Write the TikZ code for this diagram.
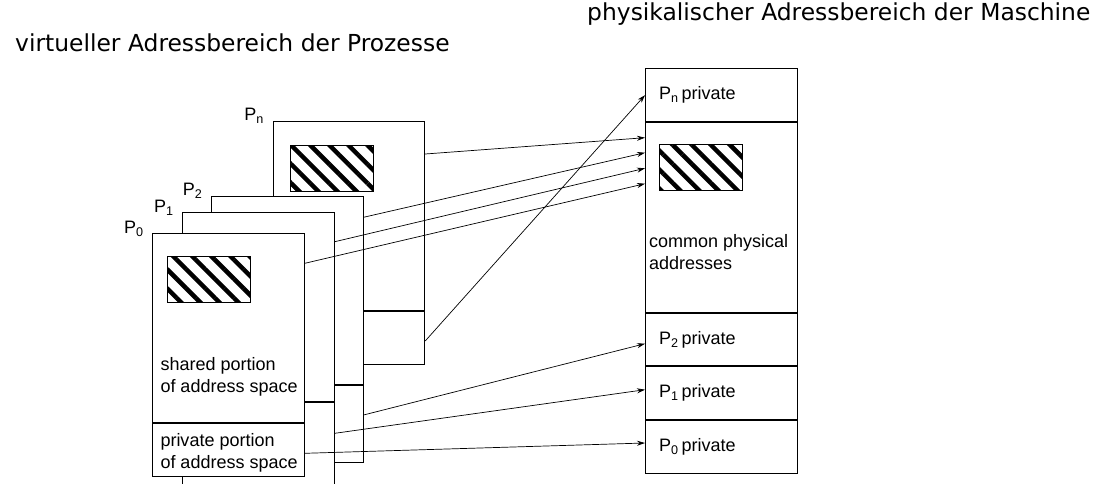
\documentclass[tikz,border=0pt]{standalone}
\usepackage{fontspec}
\setmainfont{Liberation Sans}
\newfontfamily\headfont{DejaVu Sans}
\usetikzlibrary{arrows.meta,patterns.meta,positioning}
\tikzset
{
    procbox/.style  = {rectangle, draw=black, fill=white, line width=1pt, inner sep=0pt, minimum width=151.5pt, anchor=north west},
    membox/.style   = {rectangle, draw=black, fill=white, line width=1pt, inner sep=0pt, minimum width=151.5pt},
    hatchbox/.style = {rectangle, draw=black, line width=0.8pt, inner sep=0pt, minimum width=83pt, minimum height=46pt, anchor=north west,
                       pattern={Lines[angle=-45, distance=13.5pt, line width=4.5pt]}},
    proclabel/.style = {anchor=base east, inner sep=0pt, font=\fontsize{18}{22}\selectfont},
    boxtext/.style  = {align=left, inner sep=0pt, font=\fontsize{18}{22}\selectfont},
    headline/.style = {anchor=base west, inner sep=0pt, font=\headfont\fontsize{23.4}{28}\selectfont},
    arrow/.style    = {->, >={Stealth[length=8pt, width=5pt]}, line width=0.7pt}
}

\begin{document}
\begin{tikzpicture}[x=1pt, y=-1pt]
   \useasboundingbox (0,0) rectangle (1113,484);

   % headings
   \node (vhead) [headline] at (15,52)  {virtueller Adressbereich der Prozesse};
   \node (phead) [headline] at (587,21) {physikalischer Adressbereich der Maschine};

   % process address spaces, back to front
   \node (pn)     [procbox, minimum height=189pt]   at (272.7,121)   {};
   \node (pnpriv) [procbox, minimum height=53.3pt]  at (pn.south west) {};
   \node (pnhat)  [hatchbox] at ([xshift=15.6pt, yshift=-22.3pt]pn.north west) {};

   \node (p2)     [procbox, minimum height=188.6pt] at (211,195.7)   {};
   \node (p2priv) [procbox, minimum height=76.7pt]  at (p2.south west) {};

   \node (p1)     [procbox, minimum height=188.7pt] at (182.3,212.3) {};
   \node (p1priv) [procbox, minimum height=82pt]    at (p1.south west) {};

   \node (p0)     [procbox, minimum height=189pt]   at (152.3,233.3) {};
   \node (p0priv) [procbox, minimum height=52.7pt]  at (p0.south west) {};
   \node (p0hat)  [hatchbox] at ([xshift=15pt, yshift=-22.4pt]p0.north west) {};

   \node (lpn) [proclabel] at ([xshift=-8.5pt]pn.north west) {P\textsubscript{n}};
   \node (lp2) [proclabel] at ([xshift=-8.5pt]p2.north west) {P\textsubscript{2}};
   \node (lp1) [proclabel] at ([xshift=-8.5pt]p1.north west) {P\textsubscript{1}};
   \node (lp0) [proclabel] at ([xshift=-8.5pt]p0.north west) {P\textsubscript{0}};

   \node (shtxt) [boxtext, anchor=north west] at ([xshift=8pt, yshift=-124pt]p0.north west) {shared portion\\of address space};
   \node (prtxt) [boxtext, anchor=north west] at ([xshift=8pt, yshift=-10pt]p0priv.north west) {private portion\\of address space};

   % physical memory
   \node (mpn)    [membox, minimum height=52.7pt, anchor=north west] at (645,68.3) {};
   \node (common) [membox, minimum height=189.7pt, below=0pt of mpn] {};
   \node (m2)     [membox, minimum height=52.6pt, below=0pt of common] {};
   \node (m1)     [membox, minimum height=52.7pt, below=0pt of m2] {};
   \node (m0)     [membox, minimum height=53pt,   below=0pt of m1] {};
   \node (mhat)   [hatchbox] at ([xshift=14.3pt, yshift=-22.3pt]common.north west) {};

   \node (tpn) [boxtext, anchor=west] at ([xshift=14pt]mpn.west) {P\textsubscript{n}\,private};
   \node (t2)  [boxtext, anchor=west] at ([xshift=14pt]m2.west)  {P\textsubscript{2}\,private};
   \node (t1)  [boxtext, anchor=west] at ([xshift=14pt]m1.west)  {P\textsubscript{1}\,private};
   \node (t0)  [boxtext, anchor=west] at ([xshift=14pt]m0.west)  {P\textsubscript{0}\,private};
   \node (tcom) [boxtext, anchor=north west] at ([xshift=4pt, yshift=-112pt]common.north west) {common physical\\addresses};

   % mappings
   \draw[arrow] ([yshift=-33pt]pn.north east)     -- ([yshift=-15.7pt]common.north west);
   \draw[arrow] ([yshift=-21.6pt]p2.north east)   -- ([yshift=-30.7pt]common.north west);
   \draw[arrow] ([yshift=-29.4pt]p1.north east)   -- ([yshift=-46.3pt]common.north west);
   \draw[arrow] ([yshift=-30pt]p0.north east)     -- ([yshift=-61.7pt]common.north west);
   \draw[arrow] ([yshift=-30pt]pnpriv.north east) -- (mpn.west);
   \draw[arrow] ([yshift=-29.7pt]p2priv.north east) -- ([yshift=-31pt]m2.north west);
   \draw[arrow] ([yshift=-31.3pt]p1priv.north east) -- ([yshift=-23.4pt]m1.north west);
   \draw[arrow] ([yshift=-30pt]p0priv.north east) -- ([yshift=-23pt]m0.north west);
\end{tikzpicture}
\end{document}
